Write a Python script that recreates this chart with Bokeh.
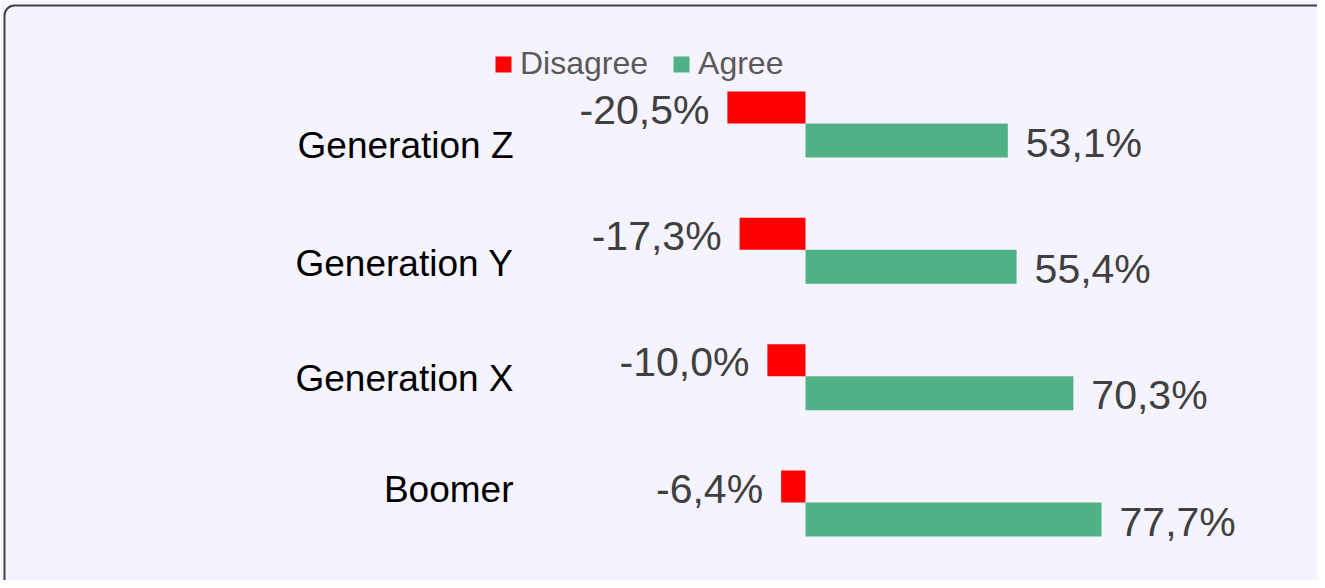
from bokeh.plotting import figure
from bokeh.models import Range1d, ColumnDataSource, Legend, LegendItem, BoxAnnotation
from bokeh.core.properties import value
from bokeh.embed import file_html
from bokeh.resources import INLINE

# ---- data ----
categories = ["Boomer", "Generation X", "Generation Y", "Generation Z"]
disagree = [-6.4, -10.0, -17.3, -20.5]
agree = [77.7, 70.3, 55.4, 53.1]
label_nudge_px = [-13, 2, 14, 22]   # vertical placement of category captions (px, + = down)

# ---- layout constants ----
W, H = 1317, 580
PX_PER_PCT = 3.81
ZERO_PX = 805          # zero line in canvas px
X0 = -ZERO_PX / PX_PER_PCT
X1 = (W - ZERO_PX) / PX_PER_PCT
PX_PER_CAT = 126.33
BASE_PX = 502          # canvas y of the Boomer baseline
Y1 = BASE_PX / PX_PER_CAT
Y0 = -(H - BASE_PX) / PX_PER_CAT
RED_H = 32 / PX_PER_CAT
GREEN_H = 34 / PX_PER_CAT

BG = "#F5F4FE"
RED = "#FF0000"
GREEN = "#50B187"
FONT = "Liberation Sans"

idx = list(range(len(categories)))
src = ColumnDataSource(dict(
    cat=categories,
    ypos=idx,
    y_red=[i + RED_H / 2 for i in idx],
    y_green=[i - GREEN_H / 2 for i in idx],
    zero=[0] * len(idx),
    disagree=disagree,
    agree=agree,
    dis_lbl=[f"{v:.1f}%".replace(".", ",") for v in disagree],
    agr_lbl=[f"{v:.1f}%".replace(".", ",") for v in agree],
    nudge=label_nudge_px,
))

p = figure(width=W, height=H, output_backend="svg", toolbar_location=None,
           x_range=Range1d(X0, X1), y_range=Range1d(Y0, Y1),
           x_axis_type=None, y_axis_type=None, min_border=0,
           background_fill_color=BG, border_fill_color=BG, outline_line_color=None)
p.grid.visible = False

# outer rounded frame
frame = BoxAnnotation(left=X0 + 4 / PX_PER_PCT, top=Y1 - 5 / PX_PER_CAT,
                      right=X1 + 200, bottom=Y0 - 20,
                      fill_alpha=0, line_color="#404040", line_alpha=1.0, line_width=2,
                      border_radius=10)
p.add_layout(frame)

r_red = p.hbar(y="y_red", left="disagree", right="zero", height=RED_H,
               fill_color=RED, line_color=None, source=src)
r_green = p.hbar(y="y_green", left="zero", right="agree", height=GREEN_H,
                 fill_color=GREEN, line_color=None, source=src)

p.text(x="disagree", y="y_red", text="dis_lbl", source=src, x_offset=-18, y_offset=2,
       text_align="right", text_baseline="middle", text_font=value(FONT),
       text_font_size="41px", text_color="#404040")
p.text(x="agree", y="y_green", text="agr_lbl", source=src, x_offset=18, y_offset=2,
       text_align="left", text_baseline="middle", text_font=value(FONT),
       text_font_size="41px", text_color="#404040")
p.text(x="zero", y="ypos", text="cat", source=src, x_offset=-292, y_offset="nudge",
       text_align="right", text_baseline="middle", text_font=value(FONT),
       text_font_size="37px", text_color="#000000")

legend = Legend(items=[LegendItem(label="Disagree", renderers=[r_red]),
                       LegendItem(label="Agree", renderers=[r_green])],
                orientation="horizontal", location=(493, 498),
                glyph_width=20, glyph_height=20, label_standoff=7, spacing=23,
                padding=0, margin=0, border_line_color=None, background_fill_alpha=0,
                label_text_font=FONT, label_text_font_size="32px",
                label_text_color="#595959")
p.add_layout(legend)

open("out.html", "w").write(file_html(p, INLINE))
